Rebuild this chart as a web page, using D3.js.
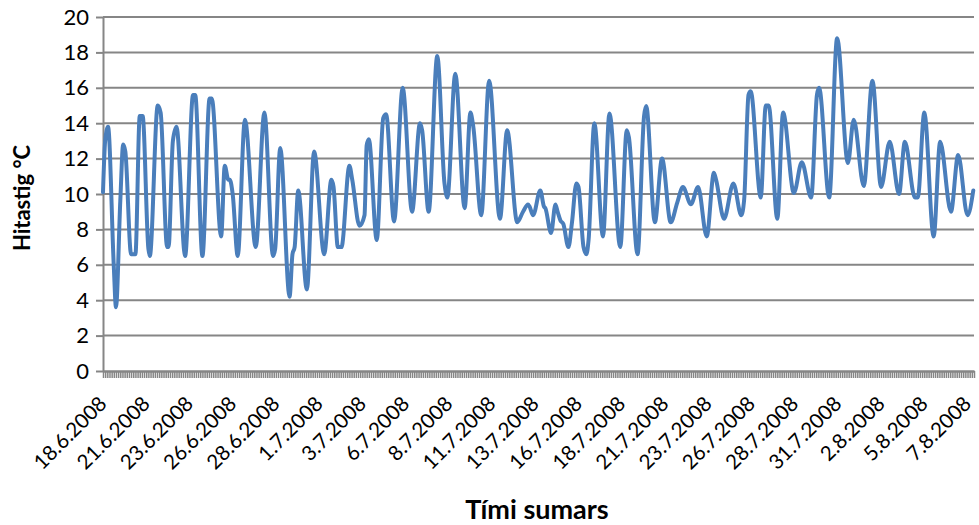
<!DOCTYPE html>
<html><head><meta charset="utf-8">
<script src="https://cdn.jsdelivr.net/npm/d3@7"></script>
<style>
body{margin:0;background:#fff}
svg{display:block}
text{font-family:Lato,"Open Sans",sans-serif}
</style>
</head><body>
<svg id="c" width="979" height="525"></svg>
<script>
// X axis: time in hours from 18.6.2008 12:00 (category every 3 hours, label every 60 hours)
const dateLabels = ["18.6.2008","21.6.2008","23.6.2008","26.6.2008","28.6.2008","1.7.2008","3.7.2008",
  "6.7.2008","8.7.2008","11.7.2008","13.7.2008","16.7.2008","18.7.2008","21.7.2008","23.7.2008",
  "26.7.2008","28.7.2008","31.7.2008","2.8.2008","5.8.2008","7.8.2008"];
const yTicks = [0,2,4,6,8,10,12,14,16,18,20];
const totalHours = 1209;
const categoryStep = 3;
const labelStep = 60;
const labelCount = 21;

// series: hour offset and temperature (°C)
const hours = [0,3,7,15,18,24,28,31,39,45,
  51,55,63,65,76,80,89,91,97,102,
  114,125,128,138,148,151,164,169,174,176,
  180,187,197,212,224,236,239,246,259,263,
  266,271,283,293,307,317,320,326,331,342,
  346,356,363,366,369,380,389,393,404,416,
  429,440,443,452,464,474,478,489,502,510,
  514,525,536,551,561,575,583,590,592,597,
  607,612,614,622,628,631,635,639,646,651,
  657,660,667,671,674,682,694,703,718,727,
  730,742,751,754,766,776,788,797,805,816,
  826,838,848,851,862,875,886,890,896,899,
  913,920,924,936,944,959,970,983,991,994,
  1008,1019,1034,1042,1056,1068,1080,1092,1105,1113,
  1127,1131,1140,1153,1162,1177,1187,1200,1208];
const temps = [10.1,13.0,13.8,5.9,3.6,9.6,12.8,12.4,6.6,6.6,
  14.4,14.4,6.9,6.5,15.0,14.6,7.0,7.0,13.0,13.8,
  6.5,15.6,15.6,6.5,15.4,15.4,7.6,11.6,10.8,10.8,
  10.0,6.5,14.2,7.0,14.6,6.5,6.9,12.6,4.2,6.6,
  7.0,10.2,4.6,12.4,6.6,10.8,10.4,7.0,7.0,11.6,
  10.8,8.2,8.8,12.75,13.1,7.4,14.3,14.5,8.45,16.0,
  9.0,14.0,13.6,9.0,17.8,10.6,9.8,16.8,9.2,14.6,
  13.8,8.8,16.4,8.6,13.6,8.4,9.0,9.4,9.3,8.8,
  10.2,9.3,9.2,7.8,9.4,9.0,8.5,8.3,7.0,8.4,
  10.6,10.4,7.0,6.6,7.4,14.0,7.6,14.55,7.0,13.6,
  13.2,6.6,14.4,14.97,8.4,12.0,8.4,9.5,10.4,9.42,
  10.4,7.6,11.2,10.8,8.6,10.6,8.8,9.7,15.6,15.8,
  9.8,15.0,15.0,8.6,14.6,10.06,11.8,9.8,15.6,16.0,
  9.8,18.8,11.75,14.2,10.45,16.4,10.4,12.95,10.0,12.95,
  9.8,9.8,14.6,7.6,12.95,9.0,12.2,8.8,10.2];

const svg = d3.select("#c");
const x = d3.scaleLinear().domain([0, totalHours]).range([103, 974]);
const y = d3.scaleLinear().domain([0, 20]).range([371, 17]);
const gridColor = "#868686";

// gridlines
svg.append("g").selectAll("line").data(yTicks.filter(d => d > 0)).join("line")
  .attr("x1", x(0)).attr("x2", x(totalHours))
  .attr("y1", d => y(d)).attr("y2", d => y(d))
  .attr("stroke", gridColor).attr("stroke-width", 2);

// y axis
const ya = svg.append("g").attr("transform", `translate(${x(0)},0)`)
  .call(d3.axisLeft(y).tickValues(yTicks).tickSize(7).tickPadding(7).tickSizeOuter(0));
ya.select(".domain").attr("stroke", gridColor).attr("stroke-width", 2);
ya.selectAll(".tick line").attr("stroke", gridColor).attr("stroke-width", 2);
ya.selectAll(".tick text").attr("font-size", 22).attr("fill", "#000").attr("font-family", "Lato");

// x axis (category ticks)
const xa = svg.append("g").attr("transform", `translate(0,${y(0)})`)
  .call(d3.axisBottom(x).tickValues(d3.range(0, totalHours + 1, categoryStep)).tickSize(7).tickFormat("").tickSizeOuter(0));
xa.select(".domain").attr("stroke", gridColor).attr("stroke-width", 2.5);
xa.selectAll(".tick line").attr("stroke", gridColor).attr("stroke-width", 1.5);

// x labels
const labelHours = d3.range(labelCount).map(i => i * labelStep);
svg.append("g").selectAll("text").data(labelHours).join("text")
  .attr("transform", d => `translate(${x(d) + 5},${405}) rotate(-45)`)
  .attr("text-anchor", "end").attr("font-size", 20.5).attr("fill", "#000")
  .text((d, i) => dateLabels[i]);

// line
const line = d3.line().x((d, i) => x(hours[i])).y(d => y(d)).curve(d3.curveMonotoneX);
svg.append("path").datum(temps).attr("d", line)
  .attr("fill", "none").attr("stroke", "#4a7ebb").attr("stroke-width", 4)
  .attr("stroke-linejoin", "round").attr("stroke-linecap", "round");

// titles
svg.append("text").attr("transform", "translate(30,198) rotate(-90)")
  .attr("text-anchor", "middle").attr("font-size", 22).attr("font-weight", "bold")
  .text("Hitastig °C");
svg.append("text").attr("x", 537).attr("y", 519)
  .attr("text-anchor", "middle").attr("font-size", 27).attr("font-weight", "bold")
  .text("Tími sumars");
</script>
</body></html>
